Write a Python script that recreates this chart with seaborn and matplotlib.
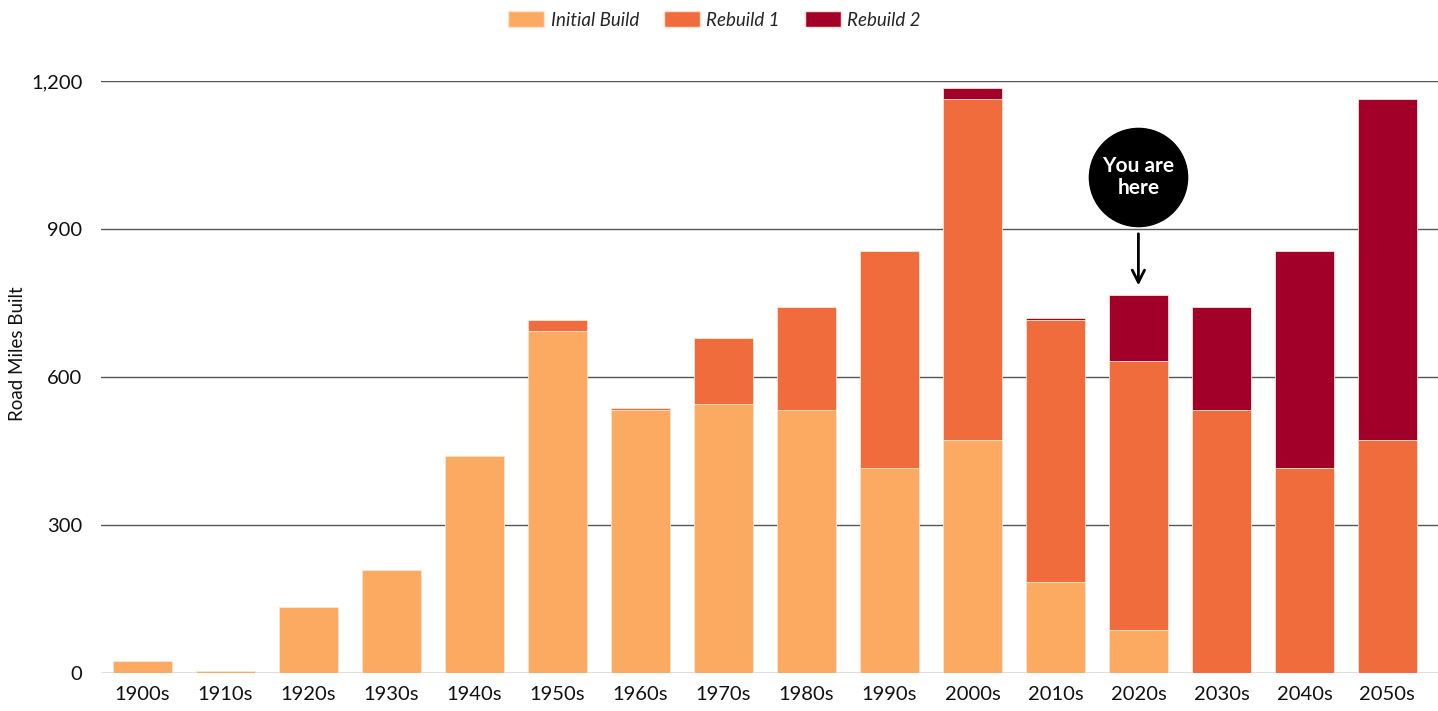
import pandas as pd
import numpy as np
import matplotlib
matplotlib.use('Agg')
import matplotlib.pyplot as plt
import seaborn as sns
from matplotlib.ticker import FuncFormatter
from matplotlib.patches import Patch

# Data (road miles built per decade)
decades = ['1900s', '1910s', '1920s', '1930s', '1940s', '1950s', '1960s', '1970s',
           '1980s', '1990s', '2000s', '2010s', '2020s', '2030s', '2040s', '2050s']
initial_build = [24, 4, 134, 209, 440, 693, 533, 545, 533, 416, 472, 184, 87, 0, 0, 0]
rebuild_1 = [0, 0, 0, 0, 0, 23, 4, 134, 209, 439, 692, 532, 545, 533, 416, 472]
rebuild_2 = [0, 0, 0, 0, 0, 0, 0, 0, 0, 0, 22, 4, 134, 209, 439, 692]

df = pd.DataFrame({'decade': decades, 'initial': initial_build,
                   'rebuild1': rebuild_1, 'rebuild2': rebuild_2})
df['base2'] = df['initial'] + df['rebuild1']

colors = {'Initial Build': '#FCAA62', 'Rebuild 1': '#F06C3C', 'Rebuild 2': '#A30029'}

sns.set_theme(style='white')
plt.rcParams['font.family'] = ['Lato', 'DejaVu Sans']

fig = plt.figure(figsize=(14.38, 7.11), dpi=100)
ax = fig.add_axes([101 / 1438, 1 - 673 / 711, 1 - 101 / 1438, (673 - 81) / 711])

bar_kw = dict(width=0.71, edgecolor='#fde3d0', linewidth=0.6, saturation=1, ax=ax, zorder=3)
sns.barplot(data=df, x='decade', y='initial', color=colors['Initial Build'], **bar_kw)
sns.barplot(data=df, x='decade', y='rebuild1', bottom=df['initial'],
            color=colors['Rebuild 1'], **bar_kw)
sns.barplot(data=df, x='decade', y='rebuild2', bottom=df['base2'],
            color=colors['Rebuild 2'], **bar_kw)

ax.set_xlim(-0.5, len(decades) - 0.39)
ax.set_ylim(0, 1200)
ax.set_yticks([0, 300, 600, 900, 1200])
ax.yaxis.set_major_formatter(FuncFormatter(lambda v, p: f'{int(v):,}'))
ax.grid(axis='y', color='#555555', linewidth=1, zorder=0)
ax.set_axisbelow(True)
for s in ax.spines.values():
    s.set_visible(False)
ax.tick_params(axis='y', length=0, pad=13.5, labelsize=14.5, labelcolor='#111111')
ax.tick_params(axis='x', length=0, pad=9, labelsize=14.5, labelcolor='#111111')
ax.set_xlabel('')
ax.set_ylabel('')
fig.text(18 / 1438, 0.503, 'Road Miles Built', rotation=90, ha='center', va='center',
         fontsize=13.5, color='#111111')

# "You are here" marker over the 2020s
ax.scatter([12], [1005], s=5000, color='black', zorder=5, clip_on=False)
ax.text(12, 1005, 'You are\nhere', color='white', ha='center', va='center',
        fontsize=15, fontweight='bold', zorder=6, linespacing=1.1)
ax.annotate('', xy=(12, 780), xytext=(12, 896),
            arrowprops=dict(arrowstyle='->', color='black', lw=2, mutation_scale=22), zorder=6)

handles = [Patch(facecolor=c, edgecolor='#fde3d0', label=k) for k, c in colors.items()]
leg = fig.legend(handles=handles, loc='upper center', bbox_to_anchor=(0.497, 1.008), ncol=3,
                 frameon=False, fontsize=13.5, handlelength=1.9, handleheight=0.95,
                 columnspacing=1.35, handletextpad=0.35)
for t in leg.get_texts():
    t.set_fontstyle('italic')

fig.savefig('out.png', dpi=100)
